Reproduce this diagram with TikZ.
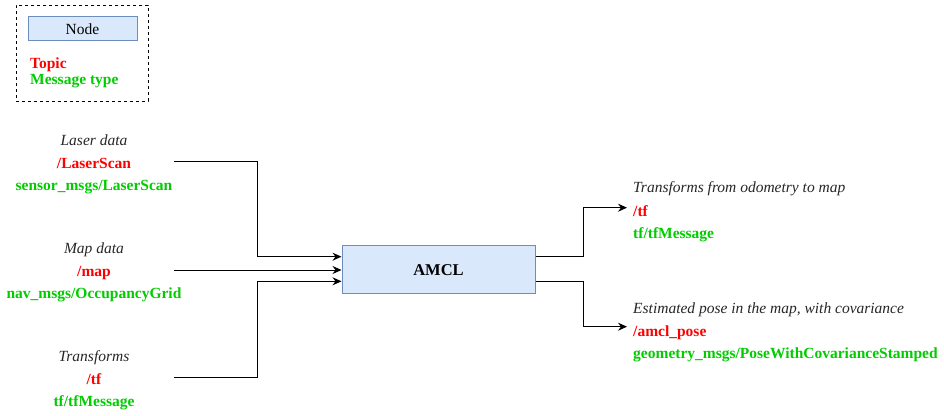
\documentclass[tikz,border=0pt]{standalone}
\usepackage{fontspec}
\setmainfont{Liberation Serif}
\usetikzlibrary{arrows.meta}
\definecolor{topicred}{HTML}{FF0000}
\definecolor{msggreen}{HTML}{00CC00}
\definecolor{nodefill}{HTML}{DAE8FC}
\definecolor{nodeline}{HTML}{6C8EBF}
\definecolor{desctext}{HTML}{262626}
\begin{document}
\begin{tikzpicture}[x=1pt,y=-1pt,
  nodebox/.style={draw=nodeline, fill=nodefill, line width=1pt, inner sep=0pt},
  desc/.style={font=\fontsize{15.5}{18}\selectfont\itshape, text=desctext, inner sep=0pt},
  topic/.style={font=\fontsize{15.5}{18}\selectfont\bfseries, text=topicred, inner sep=0pt},
  msg/.style={font=\fontsize{15.5}{18}\selectfont\bfseries, text=msggreen, inner sep=0pt},
  link/.style={line width=1pt, -{Stealth[length=9pt,width=8pt,inset=3pt]}},
  wire/.style={line width=1pt},
]
\useasboundingbox (0,0) rectangle (944,415);

% legend
\node[draw, line width=1pt, dash pattern=on 3pt off 3pt, minimum width=132pt, minimum height=96pt, inner sep=0pt] (legend) at (82,53) {};
\node[nodebox, minimum width=109pt, minimum height=24pt, font=\fontsize{15.5}{18}\selectfont] (legendnode) at (82.5,28) {};
\node[anchor=base, inner sep=0pt, font=\fontsize{15.5}{18}\selectfont] (legendnodetext) at (82.5,34.3) {Node};
\node[topic, anchor=base west] (legendtopic) at (30,68.3) {Topic};
\node[msg, anchor=base west] (legendmsg) at (30,84) {Message type};

% AMCL node
\node[nodebox, minimum width=193pt, minimum height=48pt] (amcl) at (438.5,269) {};
\node[anchor=base, inner sep=0pt, font=\fontsize{16.5}{19}\selectfont\bfseries] (amcltext) at (438.5,275) {AMCL};

% inputs
\node[desc, anchor=base] (laserdesc) at (94,145.7) {Laser data};
\node[topic, anchor=base] (lasertopic) at (94,168) {/LaserScan};
\node[msg, anchor=base] (lasermsg) at (94,190.7) {sensor\_msgs/LaserScan};

\node[desc, anchor=base] (mapdesc) at (94,253.3) {Map data};
\node[topic, anchor=base] (maptopic) at (94,276) {/map};
\node[msg, anchor=base] (mapmsg) at (94,298.3) {nav\_msgs/OccupancyGrid};

\node[desc, anchor=base] (tfindesc) at (94,361.7) {Transforms};
\node[topic, anchor=base] (tfintopic) at (94,384) {/tf};
\node[msg, anchor=base] (tfinmsg) at (94,406.7) {tf/tfMessage};

\coordinate (laserSrc) at (174,161.3);
\coordinate (mapSrc) at (174,270);
\coordinate (tfinSrc) at (174,377.7);

\draw[link] (laserSrc) -- ++(83.3,0) |- ([yshift=12.3pt]amcl.west);
\draw[link] (mapSrc) -- (amcl.west |- mapSrc);
\draw[link] (tfinSrc) -- ++(83.3,0) |- ([yshift=-12.3pt]amcl.west);

% outputs
\node[desc, anchor=base west] (tfoutdesc) at (633,192.7) {Transforms from odometry to map};
\node[topic, anchor=base west] (tfouttopic) at (633,216) {/tf};
\node[msg, anchor=base west] (tfoutmsg) at (633,238.3) {tf/tfMessage};

\node[desc, anchor=base west] (posedesc) at (633,313.3) {Estimated pose in the map, with covariance};
\node[topic, anchor=base west] (posetopic) at (633,336.7) {/amcl\_pose};
\node[msg, anchor=base west] (posemsg) at (633,358.3) {geometry\_msgs/PoseWithCovarianceStamped};

\coordinate (tfoutTip) at (627,207.7);
\coordinate (poseTip) at (627,326.7);

\draw[link] ([yshift=12.3pt]amcl.east) -- ++(48,0) |- (tfoutTip);
\draw[link] ([yshift=-12.3pt]amcl.east) -- ++(48,0) |- (poseTip);
\end{tikzpicture}
\end{document}
